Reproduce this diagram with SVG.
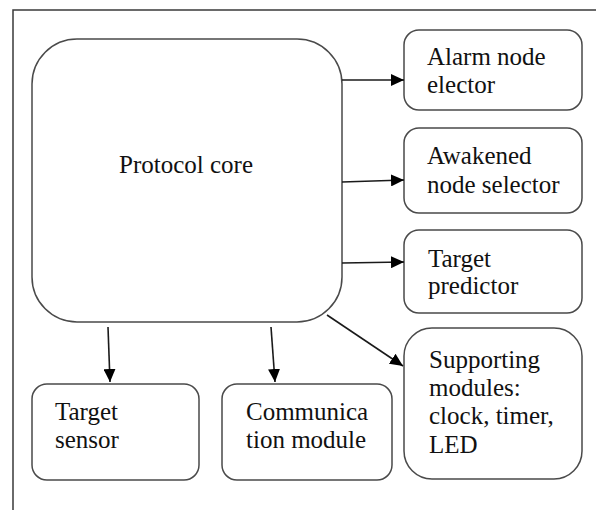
<svg xmlns="http://www.w3.org/2000/svg" width="596" height="510" viewBox="0 0 596 510">
  <style>
    .box { fill: #ffffff; stroke: #4a4a4a; stroke-width: 1.5; }
    .frame { fill: none; stroke: #3a3a3a; stroke-width: 1.5; }
    text { font-family: "Liberation Serif", "Times New Roman", serif; font-size: 25px; fill: #111111; }
    .edge { stroke: #1a1a1a; stroke-width: 1.6; fill: none; marker-end: url(#arrow); }
  </style>
  <defs>
    <marker id="arrow" markerUnits="userSpaceOnUse" markerWidth="14" markerHeight="12" refX="13" refY="6" orient="auto">
      <path d="M0,0 L13,6 L0,12 Z" fill="#000000"/>
    </marker>
  </defs>

  <rect width="596" height="510" fill="#ffffff"/>
  <!-- outer frame: open on the right and bottom -->
  <path class="frame" d="M13,510 L13,10 L596,10"/>

  <g id="protocol-core">
    <rect class="box" x="32" y="39" width="310" height="283" rx="45" ry="45"/>
    <text x="186" y="173" text-anchor="middle">Protocol core</text>
  </g>

  <g id="alarm-node-elector">
    <rect class="box" x="404" y="30" width="178" height="80" rx="15" ry="15"/>
    <text x="427" y="65">Alarm node</text>
    <text x="427" y="93">elector</text>
  </g>

  <g id="awakened-node-selector">
    <rect class="box" x="404" y="128" width="178" height="85" rx="15" ry="15"/>
    <text x="427" y="164">Awakened</text>
    <text x="427" y="193">node selector</text>
  </g>

  <g id="target-predictor">
    <rect class="box" x="404" y="230" width="178" height="83" rx="15" ry="15"/>
    <text x="428" y="267">Target</text>
    <text x="428" y="294">predictor</text>
  </g>

  <g id="supporting-modules">
    <rect class="box" x="404" y="328" width="178" height="151" rx="28" ry="28"/>
    <text x="429" y="368">Supporting</text>
    <text x="429" y="396">modules:</text>
    <text x="429" y="424">clock, timer,</text>
    <text x="429" y="453">LED</text>
  </g>

  <g id="target-sensor">
    <rect class="box" x="32" y="384" width="167" height="96" rx="15" ry="15"/>
    <text x="55" y="420">Target</text>
    <text x="55" y="448">sensor</text>
  </g>

  <g id="communication-module">
    <rect class="box" x="222" y="384" width="170" height="96" rx="15" ry="15"/>
    <text x="246" y="420">Communica</text>
    <text x="246" y="448">tion module</text>
  </g>

  <g id="connectors">
    <line class="edge" x1="342" y1="80" x2="404" y2="80"/>
    <line class="edge" x1="342" y1="182" x2="404" y2="180"/>
    <line class="edge" x1="342" y1="263" x2="404" y2="262"/>
    <line class="edge" x1="327" y1="315" x2="403" y2="366"/>
    <line class="edge" x1="108" y1="327" x2="110" y2="382"/>
    <line class="edge" x1="271" y1="327" x2="275" y2="382"/>
  </g>
</svg>
